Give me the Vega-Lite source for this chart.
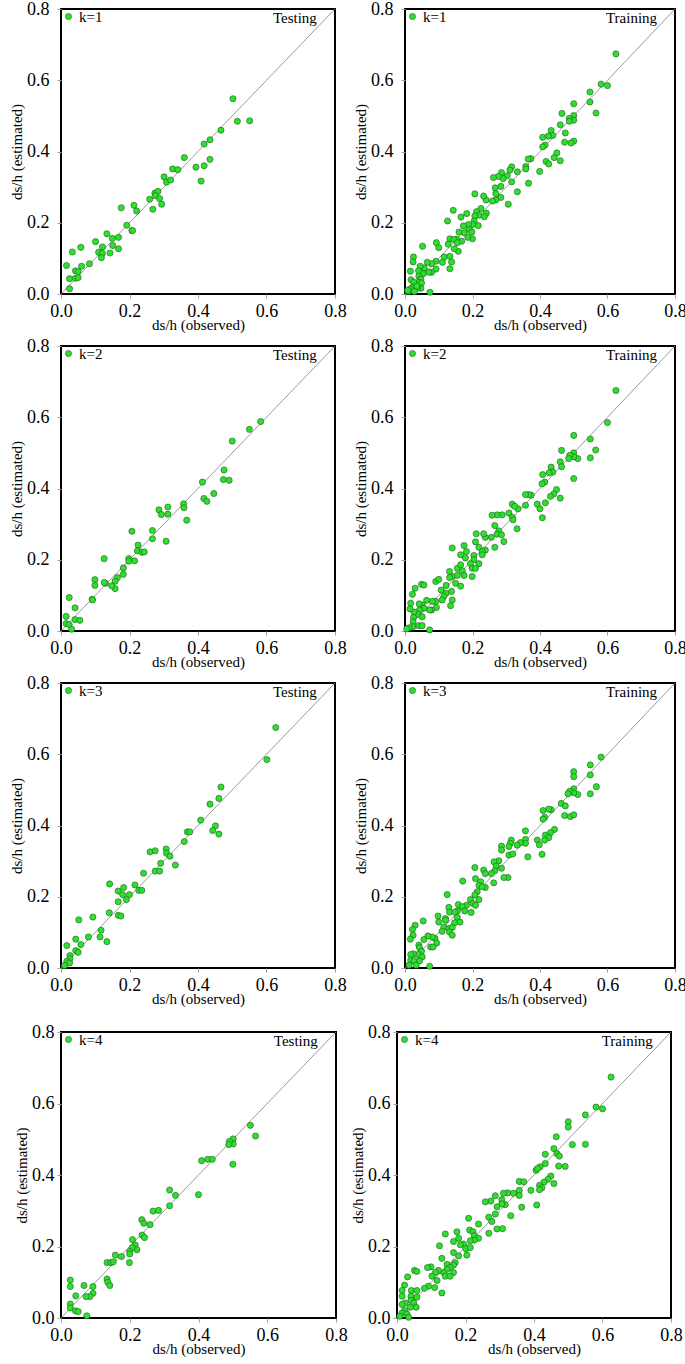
{
  "$schema": "https://vega.github.io/schema/vega-lite/v6.json",
  "padding": {"left": 8, "top": -1, "right": 0, "bottom": 0},
  "background": "white",
  "config": {
    "view": {"stroke": "black", "strokeWidth": 2},
    "axis": {"grid": false, "ticks": true, "tickColor": "#a0a0a0", "tickSize": 4, "tickWidth": 1, "domain": false, "tickCount": 4, "labelFont": "Liberation Serif", "labelFontSize": 18, "labelColor": "black", "labelFlush": false, "labelOverlap": false, "titleFont": "Liberation Serif", "titleFontSize": 15, "titleFontWeight": "normal", "titleColor": "black"},
    "axisX": {"labelPadding": 4, "titlePadding": -3},
    "axisY": {"labelPadding": 8, "titlePadding": 2},
    "legend": {"orient": "top-left", "offset": 0, "padding": 0, "labelFont": "Liberation Serif", "labelFontSize": 15, "labelColor": "black", "symbolType": "circle", "symbolSize": 38, "symbolStrokeColor": "#1d5c1d", "symbolStrokeWidth": 0.6, "labelOffset": 3}
  },
  "datasets": {
    "diag": [{"obs": 0, "est": 0}, {"obs": 0.8, "est": 0.8}],
    "p1": [{"obs":0.502,"est":0.548},{"obs":0.515,"est":0.485},{"obs":0.551,"est":0.486},{"obs":0.467,"est":0.46},{"obs":0.418,"est":0.421},{"obs":0.435,"est":0.433},{"obs":0.36,"est":0.383},{"obs":0.394,"est":0.356},{"obs":0.418,"est":0.36},{"obs":0.435,"est":0.378},{"obs":0.409,"est":0.317},{"obs":0.326,"est":0.351},{"obs":0.341,"est":0.349},{"obs":0.301,"est":0.329},{"obs":0.308,"est":0.314},{"obs":0.32,"est":0.32},{"obs":0.274,"est":0.283},{"obs":0.283,"est":0.288},{"obs":0.276,"est":0.276},{"obs":0.259,"est":0.266},{"obs":0.288,"est":0.268},{"obs":0.294,"est":0.252},{"obs":0.268,"est":0.238},{"obs":0.213,"est":0.249},{"obs":0.221,"est":0.233},{"obs":0.176,"est":0.242},{"obs":0.192,"est":0.193},{"obs":0.207,"est":0.178},{"obs":0.209,"est":0.178},{"obs":0.168,"est":0.159},{"obs":0.134,"est":0.169},{"obs":0.15,"est":0.156},{"obs":0.151,"est":0.136},{"obs":0.168,"est":0.127},{"obs":0.143,"est":0.115},{"obs":0.121,"est":0.132},{"obs":0.101,"est":0.147},{"obs":0.11,"est":0.117},{"obs":0.121,"est":0.114},{"obs":0.118,"est":0.102},{"obs":0.058,"est":0.131},{"obs":0.033,"est":0.118},{"obs":0.083,"est":0.085},{"obs":0.06,"est":0.078},{"obs":0.016,"est":0.08},{"obs":0.042,"est":0.065},{"obs":0.05,"est":0.063},{"obs":0.025,"est":0.043},{"obs":0.042,"est":0.044},{"obs":0.05,"est":0.046},{"obs":0.025,"est":0.015}],
    "p2": [{"obs":0.625,"est":0.674},{"obs":0.581,"est":0.589},{"obs":0.6,"est":0.585},{"obs":0.548,"est":0.567},{"obs":0.548,"est":0.539},{"obs":0.566,"est":0.508},{"obs":0.5,"est":0.534},{"obs":0.5,"est":0.501},{"obs":0.5,"est":0.488},{"obs":0.487,"est":0.493},{"obs":0.487,"est":0.485},{"obs":0.465,"est":0.507},{"obs":0.46,"est":0.475},{"obs":0.475,"est":0.452},{"obs":0.5,"est":0.429},{"obs":0.492,"est":0.424},{"obs":0.473,"est":0.426},{"obs":0.433,"est":0.459},{"obs":0.438,"est":0.445},{"obs":0.425,"est":0.443},{"obs":0.408,"est":0.44},{"obs":0.415,"est":0.418},{"obs":0.408,"est":0.413},{"obs":0.45,"est":0.396},{"obs":0.442,"est":0.383},{"obs":0.46,"est":0.374},{"obs":0.418,"est":0.372},{"obs":0.426,"est":0.365},{"obs":0.399,"est":0.344},{"obs":0.373,"est":0.38},{"obs":0.365,"est":0.379},{"obs":0.358,"est":0.358},{"obs":0.358,"est":0.351},{"obs":0.366,"est":0.311},{"obs":0.333,"est":0.343},{"obs":0.333,"est":0.287},{"obs":0.306,"est":0.252},{"obs":0.316,"est":0.357},{"obs":0.311,"est":0.348},{"obs":0.303,"est":0.332},{"obs":0.316,"est":0.315},{"obs":0.286,"est":0.341},{"obs":0.291,"est":0.324},{"obs":0.277,"est":0.33},{"obs":0.262,"est":0.327},{"obs":0.267,"est":0.298},{"obs":0.284,"est":0.302},{"obs":0.269,"est":0.282},{"obs":0.284,"est":0.271},{"obs":0.269,"est":0.264},{"obs":0.259,"est":0.261},{"obs":0.24,"est":0.264},{"obs":0.233,"est":0.275},{"obs":0.207,"est":0.281},{"obs":0.241,"est":0.227},{"obs":0.225,"est":0.24},{"obs":0.212,"est":0.231},{"obs":0.219,"est":0.221},{"obs":0.235,"est":0.217},{"obs":0.207,"est":0.219},{"obs":0.205,"est":0.205},{"obs":0.2,"est":0.195},{"obs":0.217,"est":0.192},{"obs":0.188,"est":0.195},{"obs":0.183,"est":0.226},{"obs":0.166,"est":0.216},{"obs":0.143,"est":0.235},{"obs":0.126,"est":0.205},{"obs":0.173,"est":0.191},{"obs":0.16,"est":0.174},{"obs":0.176,"est":0.172},{"obs":0.191,"est":0.181},{"obs":0.198,"est":0.174},{"obs":0.2,"est":0.155},{"obs":0.186,"est":0.159},{"obs":0.168,"est":0.148},{"obs":0.153,"est":0.154},{"obs":0.133,"est":0.155},{"obs":0.145,"est":0.153},{"obs":0.155,"est":0.144},{"obs":0.158,"est":0.12},{"obs":0.146,"est":0.127},{"obs":0.128,"est":0.14},{"obs":0.093,"est":0.144},{"obs":0.1,"est":0.13},{"obs":0.116,"est":0.104},{"obs":0.133,"est":0.106},{"obs":0.138,"est":0.09},{"obs":0.133,"est":0.071},{"obs":0.111,"est":0.089},{"obs":0.092,"est":0.092},{"obs":0.092,"est":0.07},{"obs":0.079,"est":0.085},{"obs":0.066,"est":0.089},{"obs":0.079,"est":0.061},{"obs":0.071,"est":0.061},{"obs":0.052,"est":0.134},{"obs":0.057,"est":0.073},{"obs":0.054,"est":0.057},{"obs":0.045,"est":0.078},{"obs":0.04,"est":0.065},{"obs":0.041,"est":0.05},{"obs":0.047,"est":0.042},{"obs":0.04,"est":0.033},{"obs":0.049,"est":0.031},{"obs":0.047,"est":0.016},{"obs":0.037,"est":0.017},{"obs":0.025,"est":0.104},{"obs":0.024,"est":0.09},{"obs":0.016,"est":0.064},{"obs":0.018,"est":0.04},{"obs":0.026,"est":0.033},{"obs":0.022,"est":0.019},{"obs":0.015,"est":0.014},{"obs":0.01,"est":0.007},{"obs":0.028,"est":0.007},{"obs":0.074,"est":0.005},{"obs":0.035,"est":0.022},{"obs":0.008,"est":0.01}],
    "p3": [{"obs":0.583,"est":0.588},{"obs":0.55,"est":0.566},{"obs":0.5,"est":0.533},{"obs":0.476,"est":0.452},{"obs":0.474,"est":0.425},{"obs":0.491,"est":0.423},{"obs":0.413,"est":0.418},{"obs":0.446,"est":0.386},{"obs":0.417,"est":0.372},{"obs":0.426,"est":0.364},{"obs":0.358,"est":0.357},{"obs":0.359,"est":0.346},{"obs":0.367,"est":0.311},{"obs":0.286,"est":0.34},{"obs":0.293,"est":0.327},{"obs":0.312,"est":0.348},{"obs":0.312,"est":0.328},{"obs":0.307,"est":0.252},{"obs":0.267,"est":0.282},{"obs":0.267,"est":0.259},{"obs":0.207,"est":0.28},{"obs":0.225,"est":0.241},{"obs":0.223,"est":0.225},{"obs":0.236,"est":0.221},{"obs":0.243,"est":0.222},{"obs":0.198,"est":0.203},{"obs":0.198,"est":0.196},{"obs":0.215,"est":0.197},{"obs":0.126,"est":0.203},{"obs":0.182,"est":0.177},{"obs":0.182,"est":0.159},{"obs":0.165,"est":0.15},{"obs":0.158,"est":0.14},{"obs":0.158,"est":0.119},{"obs":0.148,"est":0.127},{"obs":0.13,"est":0.134},{"obs":0.126,"est":0.136},{"obs":0.099,"est":0.144},{"obs":0.099,"est":0.128},{"obs":0.091,"est":0.089},{"obs":0.092,"est":0.087},{"obs":0.024,"est":0.094},{"obs":0.041,"est":0.065},{"obs":0.041,"est":0.032},{"obs":0.055,"est":0.03},{"obs":0.015,"est":0.041},{"obs":0.015,"est":0.021},{"obs":0.024,"est":0.018},{"obs":0.031,"est":0.005}],
    "p4": [{"obs":0.625,"est":0.675},{"obs":0.6,"est":0.585},{"obs":0.549,"est":0.539},{"obs":0.549,"est":0.486},{"obs":0.565,"est":0.508},{"obs":0.512,"est":0.484},{"obs":0.5,"est":0.549},{"obs":0.5,"est":0.5},{"obs":0.5,"est":0.489},{"obs":0.488,"est":0.493},{"obs":0.485,"est":0.484},{"obs":0.464,"est":0.507},{"obs":0.46,"est":0.475},{"obs":0.464,"est":0.461},{"obs":0.5,"est":0.428},{"obs":0.433,"est":0.46},{"obs":0.438,"est":0.446},{"obs":0.427,"est":0.444},{"obs":0.408,"est":0.439},{"obs":0.414,"est":0.418},{"obs":0.406,"est":0.413},{"obs":0.449,"est":0.397},{"obs":0.441,"est":0.385},{"obs":0.431,"est":0.378},{"obs":0.46,"est":0.373},{"obs":0.416,"est":0.36},{"obs":0.407,"est":0.318},{"obs":0.392,"est":0.356},{"obs":0.4,"est":0.343},{"obs":0.374,"est":0.381},{"obs":0.367,"est":0.383},{"obs":0.357,"est":0.383},{"obs":0.357,"est":0.353},{"obs":0.332,"est":0.287},{"obs":0.335,"est":0.343},{"obs":0.318,"est":0.356},{"obs":0.325,"est":0.35},{"obs":0.308,"est":0.331},{"obs":0.318,"est":0.319},{"obs":0.32,"est":0.312},{"obs":0.293,"est":0.251},{"obs":0.288,"est":0.326},{"obs":0.273,"est":0.326},{"obs":0.258,"est":0.325},{"obs":0.266,"est":0.296},{"obs":0.278,"est":0.281},{"obs":0.273,"est":0.272},{"obs":0.286,"est":0.27},{"obs":0.256,"est":0.263},{"obs":0.266,"est":0.235},{"obs":0.238,"est":0.263},{"obs":0.233,"est":0.273},{"obs":0.211,"est":0.273},{"obs":0.209,"est":0.25},{"obs":0.219,"est":0.235},{"obs":0.238,"est":0.227},{"obs":0.229,"est":0.223},{"obs":0.229,"est":0.214},{"obs":0.204,"est":0.212},{"obs":0.204,"est":0.2},{"obs":0.219,"est":0.189},{"obs":0.194,"est":0.189},{"obs":0.199,"est":0.176},{"obs":0.209,"est":0.176},{"obs":0.175,"est":0.24},{"obs":0.182,"est":0.223},{"obs":0.165,"est":0.214},{"obs":0.14,"est":0.233},{"obs":0.179,"est":0.205},{"obs":0.155,"est":0.176},{"obs":0.165,"est":0.186},{"obs":0.17,"est":0.169},{"obs":0.199,"est":0.153},{"obs":0.175,"est":0.156},{"obs":0.132,"est":0.167},{"obs":0.14,"est":0.153},{"obs":0.155,"est":0.156},{"obs":0.15,"est":0.134},{"obs":0.165,"est":0.126},{"obs":0.132,"est":0.15},{"obs":0.091,"est":0.139},{"obs":0.1,"est":0.145},{"obs":0.107,"est":0.115},{"obs":0.122,"est":0.128},{"obs":0.122,"est":0.106},{"obs":0.138,"est":0.111},{"obs":0.14,"est":0.087},{"obs":0.135,"est":0.071},{"obs":0.115,"est":0.097},{"obs":0.11,"est":0.087},{"obs":0.091,"est":0.083},{"obs":0.093,"est":0.066},{"obs":0.081,"est":0.083},{"obs":0.064,"est":0.086},{"obs":0.079,"est":0.059},{"obs":0.073,"est":0.059},{"obs":0.049,"est":0.131},{"obs":0.056,"est":0.129},{"obs":0.03,"est":0.12},{"obs":0.022,"est":0.103},{"obs":0.051,"est":0.073},{"obs":0.042,"est":0.076},{"obs":0.056,"est":0.064},{"obs":0.043,"est":0.059},{"obs":0.039,"est":0.047},{"obs":0.051,"est":0.04},{"obs":0.027,"est":0.053},{"obs":0.015,"est":0.062},{"obs":0.017,"est":0.078},{"obs":0.025,"est":0.038},{"obs":0.024,"est":0.026},{"obs":0.024,"est":0.012},{"obs":0.041,"est":0.015},{"obs":0.051,"est":0.015},{"obs":0.012,"est":0.009},{"obs":0.005,"est":0.006},{"obs":0.073,"est":0.003}],
    "p5": [{"obs":0.627,"est":0.675},{"obs":0.601,"est":0.585},{"obs":0.467,"est":0.508},{"obs":0.461,"est":0.476},{"obs":0.435,"est":0.46},{"obs":0.408,"est":0.415},{"obs":0.451,"est":0.399},{"obs":0.443,"est":0.386},{"obs":0.461,"est":0.376},{"obs":0.369,"est":0.382},{"obs":0.376,"est":0.382},{"obs":0.36,"est":0.355},{"obs":0.307,"est":0.334},{"obs":0.308,"est":0.322},{"obs":0.318,"est":0.314},{"obs":0.334,"est":0.289},{"obs":0.291,"est":0.294},{"obs":0.26,"est":0.326},{"obs":0.275,"est":0.329},{"obs":0.275,"est":0.272},{"obs":0.288,"est":0.272},{"obs":0.241,"est":0.266},{"obs":0.216,"est":0.233},{"obs":0.227,"est":0.218},{"obs":0.236,"est":0.218},{"obs":0.183,"est":0.226},{"obs":0.142,"est":0.236},{"obs":0.167,"est":0.216},{"obs":0.18,"est":0.206},{"obs":0.2,"est":0.206},{"obs":0.191,"est":0.192},{"obs":0.167,"est":0.186},{"obs":0.141,"est":0.155},{"obs":0.167,"est":0.148},{"obs":0.175,"est":0.146},{"obs":0.093,"est":0.143},{"obs":0.052,"est":0.135},{"obs":0.117,"est":0.106},{"obs":0.114,"est":0.087},{"obs":0.134,"est":0.074},{"obs":0.08,"est":0.087},{"obs":0.043,"est":0.081},{"obs":0.058,"est":0.066},{"obs":0.017,"est":0.063},{"obs":0.043,"est":0.049},{"obs":0.05,"est":0.044},{"obs":0.026,"est":0.035},{"obs":0.026,"est":0.026},{"obs":0.017,"est":0.019},{"obs":0.025,"est":0.014},{"obs":0.01,"est":0.007}],
    "p6": [{"obs":0.581,"est":0.592},{"obs":0.549,"est":0.57},{"obs":0.549,"est":0.542},{"obs":0.567,"est":0.509},{"obs":0.549,"est":0.489},{"obs":0.512,"est":0.487},{"obs":0.5,"est":0.551},{"obs":0.5,"est":0.537},{"obs":0.5,"est":0.503},{"obs":0.5,"est":0.492},{"obs":0.488,"est":0.496},{"obs":0.483,"est":0.489},{"obs":0.463,"est":0.462},{"obs":0.475,"est":0.455},{"obs":0.473,"est":0.428},{"obs":0.49,"est":0.425},{"obs":0.5,"est":0.43},{"obs":0.433,"est":0.444},{"obs":0.426,"est":0.446},{"obs":0.409,"est":0.442},{"obs":0.414,"est":0.423},{"obs":0.409,"est":0.418},{"obs":0.443,"est":0.389},{"obs":0.431,"est":0.38},{"obs":0.416,"est":0.373},{"obs":0.426,"est":0.366},{"obs":0.414,"est":0.359},{"obs":0.392,"est":0.359},{"obs":0.398,"est":0.346},{"obs":0.406,"est":0.319},{"obs":0.357,"est":0.385},{"obs":0.357,"est":0.361},{"obs":0.357,"est":0.35},{"obs":0.364,"est":0.312},{"obs":0.342,"est":0.352},{"obs":0.332,"est":0.345},{"obs":0.315,"est":0.359},{"obs":0.312,"est":0.35},{"obs":0.308,"est":0.341},{"obs":0.308,"est":0.317},{"obs":0.319,"est":0.32},{"obs":0.286,"est":0.342},{"obs":0.286,"est":0.331},{"obs":0.305,"est":0.254},{"obs":0.293,"est":0.254},{"obs":0.278,"est":0.301},{"obs":0.264,"est":0.298},{"obs":0.27,"est":0.286},{"obs":0.286,"est":0.28},{"obs":0.266,"est":0.273},{"obs":0.256,"est":0.265},{"obs":0.263,"est":0.239},{"obs":0.233,"est":0.275},{"obs":0.238,"est":0.265},{"obs":0.207,"est":0.282},{"obs":0.209,"est":0.251},{"obs":0.224,"est":0.242},{"obs":0.219,"est":0.232},{"obs":0.238,"est":0.226},{"obs":0.229,"est":0.228},{"obs":0.214,"est":0.214},{"obs":0.207,"est":0.205},{"obs":0.219,"est":0.192},{"obs":0.194,"est":0.192},{"obs":0.201,"est":0.181},{"obs":0.209,"est":0.176},{"obs":0.196,"est":0.156},{"obs":0.171,"est":0.244},{"obs":0.182,"est":0.176},{"obs":0.158,"est":0.178},{"obs":0.17,"est":0.172},{"obs":0.155,"est":0.16},{"obs":0.177,"est":0.16},{"obs":0.125,"est":0.206},{"obs":0.13,"est":0.17},{"obs":0.132,"est":0.157},{"obs":0.148,"est":0.157},{"obs":0.155,"est":0.142},{"obs":0.163,"est":0.129},{"obs":0.147,"est":0.127},{"obs":0.12,"est":0.139},{"obs":0.12,"est":0.134},{"obs":0.098,"est":0.146},{"obs":0.1,"est":0.129},{"obs":0.115,"est":0.115},{"obs":0.13,"est":0.111},{"obs":0.14,"est":0.114},{"obs":0.11,"est":0.103},{"obs":0.132,"est":0.101},{"obs":0.14,"est":0.092},{"obs":0.089,"est":0.083},{"obs":0.094,"est":0.07},{"obs":0.081,"est":0.087},{"obs":0.068,"est":0.09},{"obs":0.076,"est":0.059},{"obs":0.083,"est":0.059},{"obs":0.054,"est":0.132},{"obs":0.03,"est":0.12},{"obs":0.022,"est":0.108},{"obs":0.024,"est":0.092},{"obs":0.016,"est":0.081},{"obs":0.056,"est":0.08},{"obs":0.041,"est":0.064},{"obs":0.043,"est":0.057},{"obs":0.049,"est":0.047},{"obs":0.039,"est":0.038},{"obs":0.051,"est":0.031},{"obs":0.025,"est":0.04},{"obs":0.017,"est":0.038},{"obs":0.017,"est":0.022},{"obs":0.027,"est":0.02},{"obs":0.043,"est":0.02},{"obs":0.033,"est":0.008},{"obs":0.073,"est":0.005},{"obs":0.012,"est":0.008}],
    "p7": [{"obs":0.551,"est":0.539},{"obs":0.566,"est":0.509},{"obs":0.501,"est":0.501},{"obs":0.501,"est":0.487},{"obs":0.49,"est":0.494},{"obs":0.488,"est":0.485},{"obs":0.5,"est":0.43},{"obs":0.409,"est":0.44},{"obs":0.427,"est":0.444},{"obs":0.44,"est":0.444},{"obs":0.316,"est":0.358},{"obs":0.333,"est":0.343},{"obs":0.4,"est":0.345},{"obs":0.316,"est":0.314},{"obs":0.268,"est":0.299},{"obs":0.284,"est":0.301},{"obs":0.235,"est":0.275},{"obs":0.241,"est":0.265},{"obs":0.259,"est":0.261},{"obs":0.236,"est":0.232},{"obs":0.243,"est":0.225},{"obs":0.208,"est":0.219},{"obs":0.216,"est":0.204},{"obs":0.221,"est":0.191},{"obs":0.207,"est":0.197},{"obs":0.2,"est":0.186},{"obs":0.2,"est":0.179},{"obs":0.199,"est":0.155},{"obs":0.158,"est":0.176},{"obs":0.176,"est":0.172},{"obs":0.134,"est":0.155},{"obs":0.145,"est":0.155},{"obs":0.152,"est":0.157},{"obs":0.134,"est":0.109},{"obs":0.136,"est":0.1},{"obs":0.142,"est":0.091},{"obs":0.067,"est":0.091},{"obs":0.093,"est":0.088},{"obs":0.093,"est":0.069},{"obs":0.084,"est":0.06},{"obs":0.073,"est":0.06},{"obs":0.027,"est":0.106},{"obs":0.027,"est":0.088},{"obs":0.043,"est":0.062},{"obs":0.027,"est":0.039},{"obs":0.027,"est":0.028},{"obs":0.042,"est":0.02},{"obs":0.05,"est":0.018},{"obs":0.075,"est":0.006}],
    "p8": [{"obs":0.625,"est":0.674},{"obs":0.581,"est":0.59},{"obs":0.6,"est":0.585},{"obs":0.55,"est":0.568},{"obs":0.55,"est":0.486},{"obs":0.512,"est":0.485},{"obs":0.5,"est":0.549},{"obs":0.5,"est":0.534},{"obs":0.465,"est":0.507},{"obs":0.458,"est":0.474},{"obs":0.467,"est":0.46},{"obs":0.474,"est":0.453},{"obs":0.433,"est":0.458},{"obs":0.472,"est":0.425},{"obs":0.491,"est":0.424},{"obs":0.418,"est":0.423},{"obs":0.406,"est":0.413},{"obs":0.41,"est":0.418},{"obs":0.433,"est":0.432},{"obs":0.449,"est":0.397},{"obs":0.441,"est":0.388},{"obs":0.429,"est":0.38},{"obs":0.416,"est":0.371},{"obs":0.423,"est":0.364},{"obs":0.416,"est":0.359},{"obs":0.458,"est":0.376},{"obs":0.391,"est":0.357},{"obs":0.408,"est":0.316},{"obs":0.364,"est":0.31},{"obs":0.357,"est":0.382},{"obs":0.37,"est":0.381},{"obs":0.357,"est":0.357},{"obs":0.357,"est":0.343},{"obs":0.34,"est":0.349},{"obs":0.323,"est":0.35},{"obs":0.311,"est":0.349},{"obs":0.306,"est":0.331},{"obs":0.316,"est":0.317},{"obs":0.306,"est":0.319},{"obs":0.332,"est":0.286},{"obs":0.287,"est":0.342},{"obs":0.274,"est":0.327},{"obs":0.258,"est":0.325},{"obs":0.292,"est":0.311},{"obs":0.287,"est":0.291},{"obs":0.268,"est":0.282},{"obs":0.277,"est":0.27},{"obs":0.292,"est":0.249},{"obs":0.308,"est":0.25},{"obs":0.268,"est":0.237},{"obs":0.238,"est":0.263},{"obs":0.209,"est":0.279},{"obs":0.212,"est":0.246},{"obs":0.222,"est":0.241},{"obs":0.226,"est":0.23},{"obs":0.238,"est":0.223},{"obs":0.226,"est":0.218},{"obs":0.214,"est":0.216},{"obs":0.194,"est":0.207},{"obs":0.201,"est":0.194},{"obs":0.214,"est":0.197},{"obs":0.204,"est":0.176},{"obs":0.175,"est":0.241},{"obs":0.141,"est":0.235},{"obs":0.18,"est":0.223},{"obs":0.165,"est":0.214},{"obs":0.185,"est":0.205},{"obs":0.165,"est":0.183},{"obs":0.18,"est":0.174},{"obs":0.17,"est":0.155},{"obs":0.165,"est":0.148},{"obs":0.146,"est":0.15},{"obs":0.155,"est":0.141},{"obs":0.146,"est":0.136},{"obs":0.165,"est":0.127},{"obs":0.136,"est":0.127},{"obs":0.141,"est":0.117},{"obs":0.155,"est":0.117},{"obs":0.124,"est":0.202},{"obs":0.131,"est":0.167},{"obs":0.121,"est":0.133},{"obs":0.112,"est":0.127},{"obs":0.102,"est":0.117},{"obs":0.099,"est":0.143},{"obs":0.089,"est":0.141},{"obs":0.117,"est":0.105},{"obs":0.11,"est":0.085},{"obs":0.131,"est":0.07},{"obs":0.092,"est":0.089},{"obs":0.08,"est":0.083},{"obs":0.051,"est":0.133},{"obs":0.058,"est":0.13},{"obs":0.031,"est":0.115},{"obs":0.022,"est":0.092},{"obs":0.015,"est":0.077},{"obs":0.042,"est":0.077},{"obs":0.058,"est":0.077},{"obs":0.041,"est":0.061},{"obs":0.058,"est":0.058},{"obs":0.015,"est":0.061},{"obs":0.041,"est":0.049},{"obs":0.024,"est":0.042},{"obs":0.015,"est":0.038},{"obs":0.049,"est":0.042},{"obs":0.056,"est":0.03},{"obs":0.039,"est":0.03},{"obs":0.022,"est":0.021},{"obs":0.015,"est":0.014},{"obs":0.029,"est":0.011},{"obs":0.008,"est":0.005},{"obs":0.034,"est":0.002}]
  },
  "spacing": 15,
  "resolve": {"scale": {"fill": "independent", "x": "independent", "y": "independent"}, "legend": {"fill": "independent"}},
  "vconcat": [
    {
      "spacing": 3,
      "resolve": {"scale": {"fill": "independent", "x": "independent", "y": "independent"}, "legend": {"fill": "independent"}},
      "vconcat": [
        {
          "spacing": 4,
          "resolve": {"scale": {"fill": "independent", "x": "independent", "y": "independent"}, "legend": {"fill": "independent"}},
          "hconcat": [
            {"width": 274, "height": 285,
             "layer": [
               {"data": {"name": "diag"}, "mark": {"type": "line", "color": "#808080", "strokeWidth": 0.8}, "encoding": {"x": {"field": "obs", "type": "quantitative", "scale": {"domain": [0, 0.8], "nice": false}, "title": "ds/h (observed)"}, "y": {"field": "est", "type": "quantitative", "scale": {"domain": [0, 0.8], "nice": false}, "title": "ds/h (estimated)"}}},
               {"data": {"name": "p1"}, "mark": {"type": "point", "filled": true, "shape": "circle", "size": 38, "stroke": "#1d5c1d", "strokeWidth": 0.6, "opacity": 1}, "encoding": {"x": {"field": "obs", "type": "quantitative", "title": "ds/h (observed)"}, "y": {"field": "est", "type": "quantitative", "title": "ds/h (estimated)"}, "fill": {"datum": "k=1", "scale": {"range": ["#2ee02e"]}, "legend": {"title": null}}}},
               {"data": {"values": [{"label": "Testing"}]}, "mark": {"type": "text", "align": "right", "baseline": "middle", "font": "Liberation Serif", "fontSize": 15, "color": "black"}, "encoding": {"text": {"field": "label"}, "x": {"datum": 0.747, "type": "quantitative", "title": "ds/h (observed)"}, "y": {"datum": 0.775, "type": "quantitative", "title": "ds/h (estimated)"}}}
             ]},
            {"width": 270, "height": 285,
             "layer": [
               {"data": {"name": "diag"}, "mark": {"type": "line", "color": "#808080", "strokeWidth": 0.8}, "encoding": {"x": {"field": "obs", "type": "quantitative", "scale": {"domain": [0, 0.8], "nice": false}, "title": "ds/h (observed)"}, "y": {"field": "est", "type": "quantitative", "scale": {"domain": [0, 0.8], "nice": false}, "title": "ds/h (estimated)"}}},
               {"data": {"name": "p2"}, "mark": {"type": "point", "filled": true, "shape": "circle", "size": 38, "stroke": "#1d5c1d", "strokeWidth": 0.6, "opacity": 1}, "encoding": {"x": {"field": "obs", "type": "quantitative", "title": "ds/h (observed)"}, "y": {"field": "est", "type": "quantitative", "title": "ds/h (estimated)"}, "fill": {"datum": "k=1", "scale": {"range": ["#2ee02e"]}, "legend": {"title": null}}}},
               {"data": {"values": [{"label": "Training"}]}, "mark": {"type": "text", "align": "right", "baseline": "middle", "font": "Liberation Serif", "fontSize": 15, "color": "black"}, "encoding": {"text": {"field": "label"}, "x": {"datum": 0.747, "type": "quantitative", "title": "ds/h (observed)"}, "y": {"datum": 0.775, "type": "quantitative", "title": "ds/h (estimated)"}}}
             ]}
          ]
        },
        {
          "spacing": 4,
          "resolve": {"scale": {"fill": "independent", "x": "independent", "y": "independent"}, "legend": {"fill": "independent"}},
          "hconcat": [
            {"width": 274, "height": 285,
             "layer": [
               {"data": {"name": "diag"}, "mark": {"type": "line", "color": "#808080", "strokeWidth": 0.8}, "encoding": {"x": {"field": "obs", "type": "quantitative", "scale": {"domain": [0, 0.8], "nice": false}, "title": "ds/h (observed)"}, "y": {"field": "est", "type": "quantitative", "scale": {"domain": [0, 0.8], "nice": false}, "title": "ds/h (estimated)"}}},
               {"data": {"name": "p3"}, "mark": {"type": "point", "filled": true, "shape": "circle", "size": 38, "stroke": "#1d5c1d", "strokeWidth": 0.6, "opacity": 1}, "encoding": {"x": {"field": "obs", "type": "quantitative", "title": "ds/h (observed)"}, "y": {"field": "est", "type": "quantitative", "title": "ds/h (estimated)"}, "fill": {"datum": "k=2", "scale": {"range": ["#2ee02e"]}, "legend": {"title": null}}}},
               {"data": {"values": [{"label": "Testing"}]}, "mark": {"type": "text", "align": "right", "baseline": "middle", "font": "Liberation Serif", "fontSize": 15, "color": "black"}, "encoding": {"text": {"field": "label"}, "x": {"datum": 0.747, "type": "quantitative", "title": "ds/h (observed)"}, "y": {"datum": 0.775, "type": "quantitative", "title": "ds/h (estimated)"}}}
             ]},
            {"width": 270, "height": 285,
             "layer": [
               {"data": {"name": "diag"}, "mark": {"type": "line", "color": "#808080", "strokeWidth": 0.8}, "encoding": {"x": {"field": "obs", "type": "quantitative", "scale": {"domain": [0, 0.8], "nice": false}, "title": "ds/h (observed)"}, "y": {"field": "est", "type": "quantitative", "scale": {"domain": [0, 0.8], "nice": false}, "title": "ds/h (estimated)"}}},
               {"data": {"name": "p4"}, "mark": {"type": "point", "filled": true, "shape": "circle", "size": 38, "stroke": "#1d5c1d", "strokeWidth": 0.6, "opacity": 1}, "encoding": {"x": {"field": "obs", "type": "quantitative", "title": "ds/h (observed)"}, "y": {"field": "est", "type": "quantitative", "title": "ds/h (estimated)"}, "fill": {"datum": "k=2", "scale": {"range": ["#2ee02e"]}, "legend": {"title": null}}}},
               {"data": {"values": [{"label": "Training"}]}, "mark": {"type": "text", "align": "right", "baseline": "middle", "font": "Liberation Serif", "fontSize": 15, "color": "black"}, "encoding": {"text": {"field": "label"}, "x": {"datum": 0.747, "type": "quantitative", "title": "ds/h (observed)"}, "y": {"datum": 0.775, "type": "quantitative", "title": "ds/h (estimated)"}}}
             ]}
          ]
        },
        {
          "spacing": 4,
          "resolve": {"scale": {"fill": "independent", "x": "independent", "y": "independent"}, "legend": {"fill": "independent"}},
          "hconcat": [
            {"width": 274, "height": 285,
             "layer": [
               {"data": {"name": "diag"}, "mark": {"type": "line", "color": "#808080", "strokeWidth": 0.8}, "encoding": {"x": {"field": "obs", "type": "quantitative", "scale": {"domain": [0, 0.8], "nice": false}, "title": "ds/h (observed)"}, "y": {"field": "est", "type": "quantitative", "scale": {"domain": [0, 0.8], "nice": false}, "title": "ds/h (estimated)"}}},
               {"data": {"name": "p5"}, "mark": {"type": "point", "filled": true, "shape": "circle", "size": 38, "stroke": "#1d5c1d", "strokeWidth": 0.6, "opacity": 1}, "encoding": {"x": {"field": "obs", "type": "quantitative", "title": "ds/h (observed)"}, "y": {"field": "est", "type": "quantitative", "title": "ds/h (estimated)"}, "fill": {"datum": "k=3", "scale": {"range": ["#2ee02e"]}, "legend": {"title": null}}}},
               {"data": {"values": [{"label": "Testing"}]}, "mark": {"type": "text", "align": "right", "baseline": "middle", "font": "Liberation Serif", "fontSize": 15, "color": "black"}, "encoding": {"text": {"field": "label"}, "x": {"datum": 0.747, "type": "quantitative", "title": "ds/h (observed)"}, "y": {"datum": 0.775, "type": "quantitative", "title": "ds/h (estimated)"}}}
             ]},
            {"width": 270, "height": 285,
             "layer": [
               {"data": {"name": "diag"}, "mark": {"type": "line", "color": "#808080", "strokeWidth": 0.8}, "encoding": {"x": {"field": "obs", "type": "quantitative", "scale": {"domain": [0, 0.8], "nice": false}, "title": "ds/h (observed)"}, "y": {"field": "est", "type": "quantitative", "scale": {"domain": [0, 0.8], "nice": false}, "title": "ds/h (estimated)"}}},
               {"data": {"name": "p6"}, "mark": {"type": "point", "filled": true, "shape": "circle", "size": 38, "stroke": "#1d5c1d", "strokeWidth": 0.6, "opacity": 1}, "encoding": {"x": {"field": "obs", "type": "quantitative", "title": "ds/h (observed)"}, "y": {"field": "est", "type": "quantitative", "title": "ds/h (estimated)"}, "fill": {"datum": "k=3", "scale": {"range": ["#2ee02e"]}, "legend": {"title": null}}}},
               {"data": {"values": [{"label": "Training"}]}, "mark": {"type": "text", "align": "right", "baseline": "middle", "font": "Liberation Serif", "fontSize": 15, "color": "black"}, "encoding": {"text": {"field": "label"}, "x": {"datum": 0.747, "type": "quantitative", "title": "ds/h (observed)"}, "y": {"datum": 0.775, "type": "quantitative", "title": "ds/h (estimated)"}}}
             ]}
          ]
        }
      ]
    },
    {
      "spacing": 0,
      "resolve": {"scale": {"fill": "independent", "x": "independent", "y": "independent"}, "legend": {"fill": "independent"}},
      "hconcat": [
        {"width": 275, "height": 286,
         "layer": [
           {"data": {"name": "diag"}, "mark": {"type": "line", "color": "#808080", "strokeWidth": 0.8}, "encoding": {"x": {"field": "obs", "type": "quantitative", "scale": {"domain": [0, 0.8], "nice": false}, "title": "ds/h (observed)"}, "y": {"field": "est", "type": "quantitative", "scale": {"domain": [0, 0.8], "nice": false}, "title": "ds/h (estimated)", "axis": {"labelPadding": 3}}}},
           {"data": {"name": "p7"}, "mark": {"type": "point", "filled": true, "shape": "circle", "size": 38, "stroke": "#1d5c1d", "strokeWidth": 0.6, "opacity": 1}, "encoding": {"x": {"field": "obs", "type": "quantitative", "title": "ds/h (observed)"}, "y": {"field": "est", "type": "quantitative", "title": "ds/h (estimated)"}, "fill": {"datum": "k=4", "scale": {"range": ["#2ee02e"]}, "legend": {"title": null}}}},
           {"data": {"values": [{"label": "Testing"}]}, "mark": {"type": "text", "align": "right", "baseline": "middle", "font": "Liberation Serif", "fontSize": 15, "color": "black"}, "encoding": {"text": {"field": "label"}, "x": {"datum": 0.747, "type": "quantitative", "title": "ds/h (observed)"}, "y": {"datum": 0.775, "type": "quantitative", "title": "ds/h (estimated)"}}}
         ]},
        {"width": 274, "height": 286,
         "layer": [
           {"data": {"name": "diag"}, "mark": {"type": "line", "color": "#808080", "strokeWidth": 0.8}, "encoding": {"x": {"field": "obs", "type": "quantitative", "scale": {"domain": [0, 0.8], "nice": false}, "title": "ds/h (observed)"}, "y": {"field": "est", "type": "quantitative", "scale": {"domain": [0, 0.8], "nice": false}, "title": "ds/h (estimated)", "axis": {"labelPadding": 3}}}},
           {"data": {"name": "p8"}, "mark": {"type": "point", "filled": true, "shape": "circle", "size": 38, "stroke": "#1d5c1d", "strokeWidth": 0.6, "opacity": 1}, "encoding": {"x": {"field": "obs", "type": "quantitative", "title": "ds/h (observed)"}, "y": {"field": "est", "type": "quantitative", "title": "ds/h (estimated)"}, "fill": {"datum": "k=4", "scale": {"range": ["#2ee02e"]}, "legend": {"title": null}}}},
           {"data": {"values": [{"label": "Training"}]}, "mark": {"type": "text", "align": "right", "baseline": "middle", "font": "Liberation Serif", "fontSize": 15, "color": "black"}, "encoding": {"text": {"field": "label"}, "x": {"datum": 0.747, "type": "quantitative", "title": "ds/h (observed)"}, "y": {"datum": 0.775, "type": "quantitative", "title": "ds/h (estimated)"}}}
         ]}
      ]
    }
  ]
}
